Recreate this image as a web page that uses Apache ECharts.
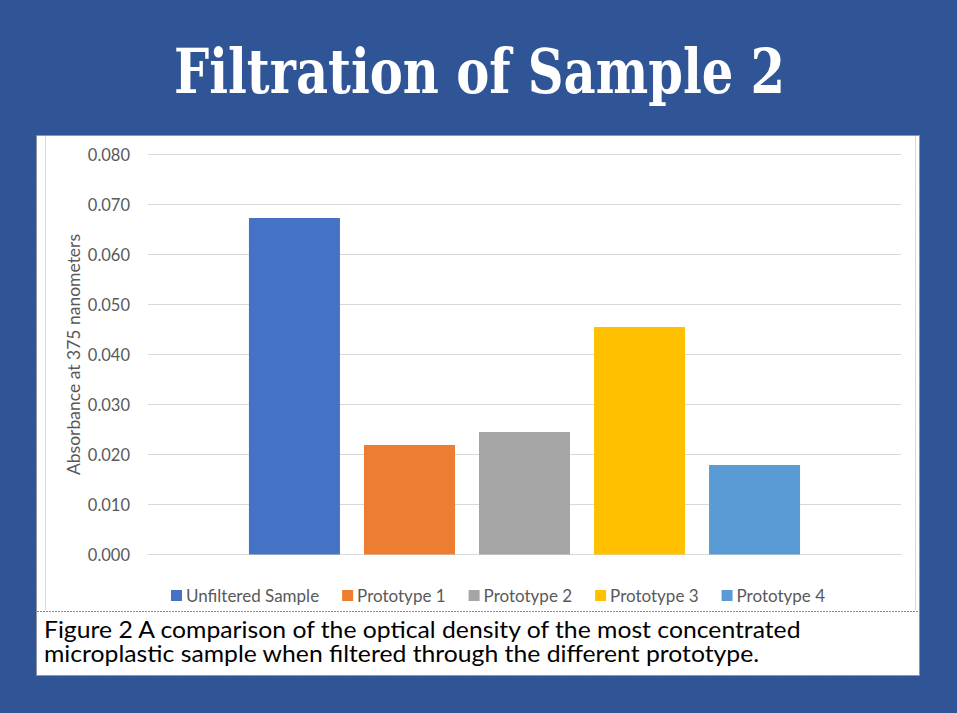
<!DOCTYPE html>
<html><head><meta charset="utf-8">
<script src="https://cdn.jsdelivr.net/npm/echarts@6/dist/echarts.min.js"></script>
<style>html,body{margin:0;padding:0;background:#2F5597;} #c{width:957px;height:713px;}</style>
</head><body><div id="c"></div>
<script>
// ---- data ----
const categories = [''];
const seriesNames = ['Unfiltered Sample', 'Prototype 1', 'Prototype 2', 'Prototype 3', 'Prototype 4'];
const unfilteredSample = [0.0673];
const prototype1 = [0.0219];
const prototype2 = [0.0245];
const prototype3 = [0.0455];
const prototype4 = [0.0179];
const seriesValues = [unfilteredSample, prototype1, prototype2, prototype3, prototype4];
const yTickLabels = ['0.000', '0.010', '0.020', '0.030', '0.040', '0.050', '0.060', '0.070', '0.080'];
const yAxisName = 'Absorbance at 375 nanometers';
const titleText = 'Filtration of Sample 2';
const captionLines = [
  'Figure 2 A comparison of the optical density of the most concentrated',
  'microplastic sample when filtered through the different prototype.'
];

// ---- styles ----
const seriesColors = ['#4472C4', '#ED7D31', '#A5A5A5', '#FFC000', '#5B9BD5'];
const mctx = document.createElement('canvas').getContext('2d');
function measure(text, font) { mctx.font = font; return mctx.measureText(text).width; }

const titleFont = { size: 62, family: '"DejaVu Serif"', weight: 'bold' };
const titleW = measure(titleText, titleFont.weight + ' ' + titleFont.size + 'px ' + titleFont.family);
const titleScale = 611 / titleW;

const capFont = { size: 23, family: 'Lato', weight: 'normal' };
const capW = measure(captionLines[0], capFont.size + 'px ' + capFont.family);
const capScale = 760 / capW;

const chart = echarts.init(document.getElementById('c'), null, { renderer: 'svg' });

const series = seriesNames.map((name, i) => ({
  name: name,
  type: 'bar',
  data: seriesValues[i],
  barWidth: 91,
  barGap: '26.4%',
  itemStyle: { color: seriesColors[i] },
  emphasis: { disabled: true }
}));

chart.setOption({
  backgroundColor: '#2F5597',
  animation: false,
  graphic: [
    { type: 'rect', z: 0, shape: { x: 36.5, y: 135.5, width: 883, height: 540 },
      style: { fill: '#FFFFFF', stroke: '#8C8C8C', lineWidth: 1, lineDash: [2, 1] } },
    { type: 'line', z: 1, shape: { x1: 45.5, y1: 136, x2: 45.5, y2: 610.5 },
      style: { stroke: '#D9D9D9', lineWidth: 1 } },
    { type: 'line', z: 1, shape: { x1: 915.5, y1: 136, x2: 915.5, y2: 610.5 },
      style: { stroke: '#D9D9D9', lineWidth: 1 } },
    { type: 'line', z: 1, shape: { x1: 37, y1: 611.5, x2: 919, y2: 611.5 },
      style: { stroke: '#8C8C8C', lineWidth: 1, lineDash: [2, 1] } },
    { type: 'text', z: 5, x: 174, y: 71, scaleX: titleScale, scaleY: 1,
      style: { text: titleText, fontSize: titleFont.size, fontFamily: titleFont.family, fontWeight: titleFont.weight,
        fill: '#FFFFFF', textAlign: 'left', textVerticalAlign: 'middle', align: 'left', verticalAlign: 'middle' } },
    { type: 'text', z: 5, x: 44, y: 629, scaleX: capScale,
      style: { text: captionLines[0], fontSize: capFont.size, fontFamily: capFont.family,
        fill: '#000000', textAlign: 'left', textVerticalAlign: 'middle', align: 'left', verticalAlign: 'middle' } },
    { type: 'text', z: 5, x: 44, y: 652.5, scaleX: capScale,
      style: { text: captionLines[1], fontSize: capFont.size, fontFamily: capFont.family,
        fill: '#000000', textAlign: 'left', textVerticalAlign: 'middle', align: 'left', verticalAlign: 'middle' } }
  ],
  grid: { left: 148, right: 56, top: 154.5, height: 400, containLabel: false },
  legend: {
    data: seriesNames,
    left: 166, top: 582,
    icon: 'rect', itemWidth: 11, itemHeight: 11, itemGap: 23,
    textStyle: { color: '#595959', fontFamily: 'Lato', fontSize: 17, padding: [0, 0, 0, -1] },
    selectedMode: false
  },
  xAxis: {
    type: 'category', data: categories,
    axisLine: { show: true, lineStyle: { color: '#D9D9D9' } },
    axisTick: { show: false }, axisLabel: { show: false }
  },
  yAxis: {
    type: 'value', min: 0, max: 0.08, interval: 0.01,
    name: yAxisName, nameLocation: 'middle', nameRotate: 90, nameGap: 66, nameMoveOverlap: false,
    nameTextStyle: { color: '#595959', fontFamily: 'Lato', fontSize: 17.5 },
    axisLine: { show: false }, axisTick: { show: false },
    axisLabel: { color: '#595959', fontFamily: 'Lato', fontSize: 16.5, margin: 18,
      formatter: (v) => yTickLabels[Math.round(v / 0.01)] },
    splitLine: { lineStyle: { color: '#D9D9D9', width: 1 } }
  },
  series: series
});
</script>
</body></html>
